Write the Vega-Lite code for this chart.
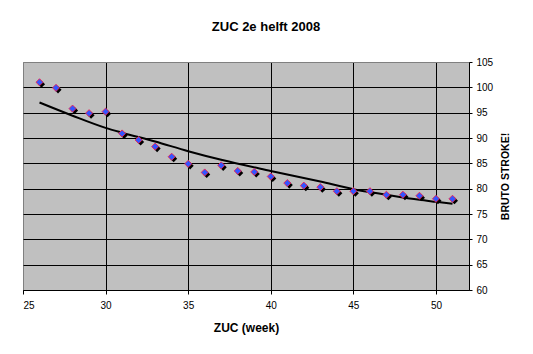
{
  "$schema": "https://vega.github.io/schema/vega-lite/v6.json",
  "width": 446,
  "height": 228,
  "autosize": {"type": "none"},
  "padding": {"left": 23, "top": 62, "right": 64, "bottom": 64},
  "background": "white",
  "title": {
    "text": "ZUC 2e helft 2008",
    "font": "Liberation Sans",
    "fontSize": 13,
    "fontWeight": "bold",
    "color": "black",
    "anchor": "middle",
    "frame": "group",
    "dx": 20,
    "offset": 13,
    "baseline": "alphabetic"
  },
  "datasets": {
    "points": [
      {"week": 26, "value": 101.0},
      {"week": 27, "value": 99.9},
      {"week": 28, "value": 95.8},
      {"week": 29, "value": 94.9},
      {"week": 30, "value": 95.2},
      {"week": 31, "value": 90.9},
      {"week": 32, "value": 89.6},
      {"week": 33, "value": 88.3},
      {"week": 34, "value": 86.3},
      {"week": 35, "value": 84.9},
      {"week": 36, "value": 83.2},
      {"week": 37, "value": 84.6},
      {"week": 38, "value": 83.5},
      {"week": 39, "value": 83.3},
      {"week": 40, "value": 82.4},
      {"week": 41, "value": 81.1},
      {"week": 42, "value": 80.6},
      {"week": 43, "value": 80.3},
      {"week": 44, "value": 79.5},
      {"week": 45, "value": 79.5},
      {"week": 46, "value": 79.5},
      {"week": 47, "value": 78.8},
      {"week": 48, "value": 78.8},
      {"week": 49, "value": 78.6},
      {"week": 50, "value": 78.0},
      {"week": 51, "value": 78.0}
    ],
    "trend": [
      {"week": 26, "value": 97.0},
      {"week": 28, "value": 94.4},
      {"week": 30, "value": 92.0},
      {"week": 31, "value": 91.05},
      {"week": 33, "value": 89.3},
      {"week": 35, "value": 87.4},
      {"week": 37, "value": 85.7},
      {"week": 40, "value": 83.5},
      {"week": 43, "value": 81.4},
      {"week": 45, "value": 79.9},
      {"week": 47, "value": 78.8},
      {"week": 49, "value": 77.8},
      {"week": 50, "value": 77.4},
      {"week": 51, "value": 77.0}
    ]
  },
  "data": {"name": "points"},
  "config": {
    "view": {"fill": "#C0C0C0", "stroke": "#808080", "strokeWidth": 1},
    "axis": {
      "domainColor": "black",
      "tickColor": "black",
      "labelColor": "black",
      "labelFont": "Liberation Sans",
      "labelFontSize": 10,
      "titleFont": "Liberation Sans",
      "titleFontWeight": "bold",
      "titleColor": "black",
      "gridOpacity": 1,
      "gridWidth": 1
    }
  },
  "encoding": {
    "x": {
      "field": "week",
      "type": "quantitative",
      "scale": {"domain": [25, 52], "nice": false, "zero": false},
      "axis": {
        "values": [25, 30, 35, 40, 45, 50],
        "title": "ZUC (week)",
        "titleFontSize": 12,
        "titlePadding": 12,
        "tickSize": 4,
        "labelPadding": 6,
        "grid": true,
        "gridColor": {"condition": {"test": "datum.value == 25", "value": "#808080"}, "value": "black"}
      }
    },
    "y": {
      "field": "value",
      "type": "quantitative",
      "scale": {"domain": [60, 105], "nice": false, "zero": false},
      "axis": {
        "orient": "right",
        "values": [60, 65, 70, 75, 80, 85, 90, 95, 100, 105],
        "title": "BRUTO STROKE!",
        "titleAngle": 270,
        "titleFontSize": 10.5,
        "titlePadding": 18,
        "tickSize": 3,
        "labelPadding": 4,
        "grid": true,
        "gridColor": {"condition": {"test": "datum.value == 105", "value": "#808080"}, "value": "black"}
      }
    }
  },
  "layer": [
    {
      "data": {"name": "trend"},
      "mark": {"type": "line", "color": "black", "strokeWidth": 2, "interpolate": "monotone"}
    },
    {
      "mark": {"type": "point", "shape": "diamond", "filled": true, "size": 50, "color": "black", "opacity": 1, "xOffset": 2, "yOffset": 2}
    },
    {
      "mark": {"type": "point", "shape": "diamond", "filled": true, "size": 50, "fill": "#3355FF", "stroke": "#F02050", "strokeWidth": 0.9, "opacity": 1}
    }
  ]
}
